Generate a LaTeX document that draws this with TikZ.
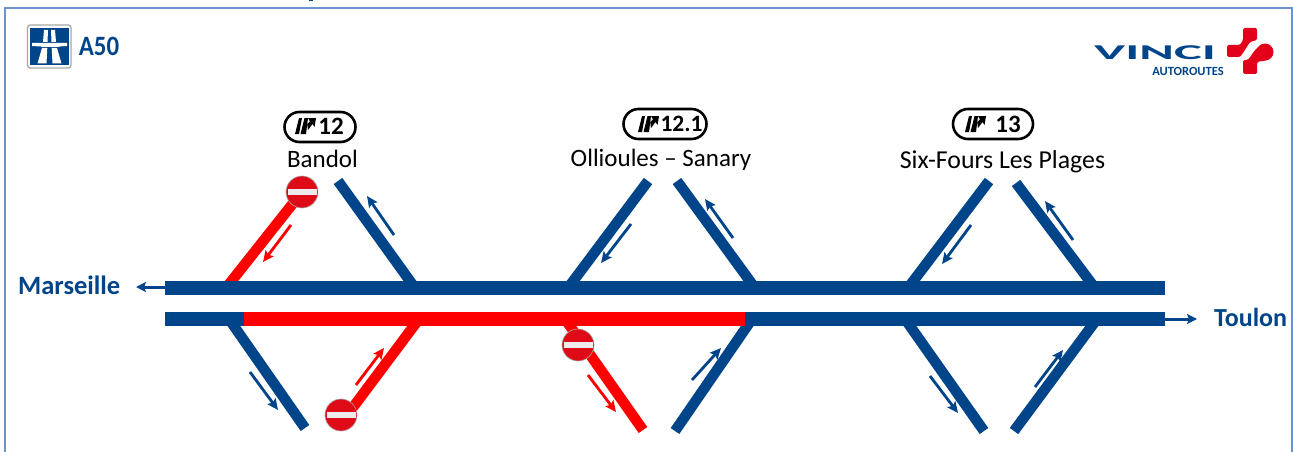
\documentclass[tikz,border=0pt]{standalone}
\usepackage{fontspec}
\setmainfont{Carlito}
\usetikzlibrary{arrows.meta}
\definecolor{vblue}{HTML}{004489}
\definecolor{vred}{HTML}{FF0000}
\definecolor{sred}{HTML}{DF0A17}
\definecolor{lred}{HTML}{E2001A}
\definecolor{framec}{HTML}{6D93CC}
\tikzset{
 x=1pt,y=-1pt,
 road/.style={line width=10.5pt},
 main/.style={line width=14pt},
 blueroad/.style={road,draw=vblue},
 redroad/.style={road,draw=vred},
 thin arrow/.style={line width=2.8pt,-{Stealth[length=11pt,width=10pt,inset=2pt]}},
 mainarrow/.style={line width=3pt,draw=vblue,-{Stealth[length=10pt,width=10pt,inset=2pt]}},
 place/.style={font=\fontsize{25}{27}\selectfont,text=black,inner sep=0pt},
 city/.style={font=\bfseries\fontsize{26.5}{28}\selectfont,text=vblue,inner sep=0pt},
 exitpill/.style={draw=black,line width=2.6pt,rounded corners=15pt,fill=white,minimum height=30pt,inner sep=0pt},
 exitnum/.style={font=\bfseries\fontsize{25}{27}\selectfont,inner sep=0pt},
 noentry/.style={circle,fill=sred,draw=gray!70,line width=.6pt,minimum size=32pt,inner sep=0pt,path picture={\fill[white!92!black] ([xshift=-14.5pt,yshift=-3.4pt]path picture bounding box.center) rectangle ([xshift=14.5pt,yshift=3.4pt]path picture bounding box.center);}},
}
\newcommand{\exitglyph}[2]{%
 \begin{scope}[shift={(#1,#2)}]
 \fill[black] (-10,8) -- (-6,-8) -- (-3,-8) -- (-6,8) -- cycle;
 \fill[black] (-4.5,8) -- (-0.5,-8) -- (3,-8) -- (1,8) -- cycle;
 \fill[black] (3,-8) -- (11,-8) -- (9.5,1) -- (7.5,-2) -- (3,4) -- (2.2,-2) -- (5,-4.5) -- cycle;
 \end{scope}}
\begin{document}
\begin{tikzpicture}
\useasboundingbox (0,0) rectangle (1293,452);
\fill[white] (0,0) rectangle (1293,452);
% frame
\draw[framec,line width=2pt] (5,453) -- (5,8.5) -- (1291.5,8.5) -- (1291.5,453);
% coordinates
\foreach \n/\x/\y in {
 mwA/165/288,mwB/1165/288,mwC/165/319,mwD/1165/319,rA/244/319,rB/745/319,
 a1/226/288,a2/415/288,b1/338/181,
 c1/568/288,c2/648/181,d1/755/288,d2/677/181,
 e1/908/288,e2/989/181,f1/1095/288,f2/1016/183,
 g1/229/319,g2/305/428,h1/419/319,h2/345/418,
 i1/565/319,i2/643/430,j1/752/319,j2/675/431,
 k1/905/319,k2/984/431,l1/1097/319,l2/1014/431,
 mar/136/287,tou/1197/319,
 aa1/291/225,aa2/263/262,ab1/394/235,ab2/367/196,
 ac1/631/224,ac2/601/263,ad1/733/238,ad2/705/199,
 ae1/971/225,ae2/942/264,af1/1073/240,af2/1045/201,
 ag1/250/372,ag2/278/410,ah1/356/385,ah2/384/348,
 ai1/588/375,ai2/616/412,aj1/692/380,aj2/721/348,
 ak1/930/376,ak2/958/413,al1/1035/387,al2/1063/350}
 {\coordinate (\n) at (\x,\y);}
% ramps
\draw[blueroad] (b1) -- (a2);
\draw[blueroad] (c2) -- (c1);
\draw[blueroad] (d2) -- (d1);
\draw[blueroad] (e2) -- (e1);
\draw[blueroad] (f2) -- (f1);
\draw[blueroad] (g1) -- (g2);
\draw[blueroad] (j1) -- (j2);
\draw[blueroad] (k1) -- (k2);
\draw[blueroad] (l1) -- (l2);
\draw[redroad] (i1) -- (i2);
% sign positions
\coordinate (s1) at (302,192);
\coordinate (s2) at (341,415);
\coordinate (s3) at (578,345);
\draw[redroad] (a1) -- (s1);
\draw[redroad] (h1) -- (h2);
% main roads
\draw[main,draw=vblue] (mwA) -- (mwB);
\draw[main,draw=vblue] (mwC) -- (mwD);
\draw[main,draw=vred] (rA) -- (rB);
% signs above ramps
\node[noentry] (n1) at (s1) {};
\node[noentry] (n2) at (s2) {};
\node[noentry] (n3) at (s3) {};
% direction arrows
\foreach \p/\q in {ab1/ab2,ac1/ac2,ad1/ad2,ae1/ae2,af1/af2,ag1/ag2,aj1/aj2,ak1/ak2,al1/al2}
 \draw[thin arrow,draw=vblue] (\p) -- (\q);
\foreach \p/\q in {aa1/aa2,ah1/ah2,ai1/ai2}
 \draw[thin arrow,draw=vred] (\p) -- (\q);
\coordinate (mwE) at (165,287);
\draw[mainarrow] (mwE) -- (mar);
\draw[mainarrow] (mwD) -- (tou);
% cities
\node[city,anchor=east] (marseille) at (120.5,285.5) {Marseille};
\node[city,anchor=west,font=\bfseries\fontsize{26}{28}\selectfont] (toulon) at (1214,317.5) {Toulon};
% exits
\node[exitpill,minimum width=71pt] (x12) at (320,127) {};
\exitglyph{305}{126}
\node[exitnum] (n12) at (331,126) {12};
\node[place] (bandol) at (322.5,159) {Bandol};
\node[exitpill,minimum width=83pt] (x121) at (665,124) {};
\exitglyph{648}{124}
\node[exitnum,font=\bfseries\fontsize{23.5}{25}\selectfont] (n121) at (681.5,124) {12.1};
\node[place] (ollioules) at (661,160) {Ollioules – Sanary};
\node[exitpill,minimum width=80pt] (x13) at (993,124) {};
\exitglyph{975}{124}
\node[exitnum] (n13) at (1008,124) {13};
\node[place,font=\fontsize{25.8}{27}\selectfont] (sixfours) at (1002.5,162) {Six-Fours Les Plages};
% motorway sign
\fill[white,draw=gray!70,line width=1.2pt,rounded corners=2.5pt] (27.5,25) rectangle (71,68);
\fill[vblue] (30,28) rectangle (68.5,65.5);
\fill[white] (32,43) -- (67,43) -- (67,46) -- (58,46.5) -- (60,47) -- (41,47) -- (41,46.5) -- (32,46) -- cycle;
\fill[white] (44,30) -- (48,30) -- (47.5,42) -- (43,42) -- cycle;
\fill[white] (51,30) -- (55,30) -- (56,42) -- (51.5,42) -- cycle;
\fill[white] (42,48) -- (47.3,48) -- (46.5,63.5) -- (37.5,63.5) -- cycle;
\fill[white] (51.7,48) -- (57,48) -- (61.5,63.5) -- (52.5,63.5) -- cycle;
\node[font=\bfseries\fontsize{28}{29}\selectfont,text=vblue,inner sep=0pt,xscale=.89] (a50) at (99,46) {A50};
% logo
\node[font=\bfseries\fontsize{27}{28}\selectfont,text=vblue,inner sep=0pt,xscale=1.95,yscale=.78] (vinci) at (1155,53) {VINCI};
\node[font=\bfseries\fontsize{12.5}{13}\selectfont,text=vblue,inner sep=0pt] (auto) at (1188,71) {AUTOROUTES};
\fill[lred,rounded corners=1.5pt] (1227,45) -- (1240,45) -- (1243,40) -- (1243,28) -- (1257,28) -- (1257,40) -- (1250,42) -- (1243,53) -- (1240,57) -- (1227,57) -- cycle;
\fill[lred,rounded corners=1.5pt] (1243,60) -- (1248,60) -- (1255,50) -- (1262,44) -- (1268,60) -- (1257,62) -- (1257,74) -- (1243,74) -- cycle;
\fill[lred] (1265,52) circle[radius=8.5];
\fill[vblue] (309,0) rectangle (313,1.2);
\end{tikzpicture}
\end{document}
